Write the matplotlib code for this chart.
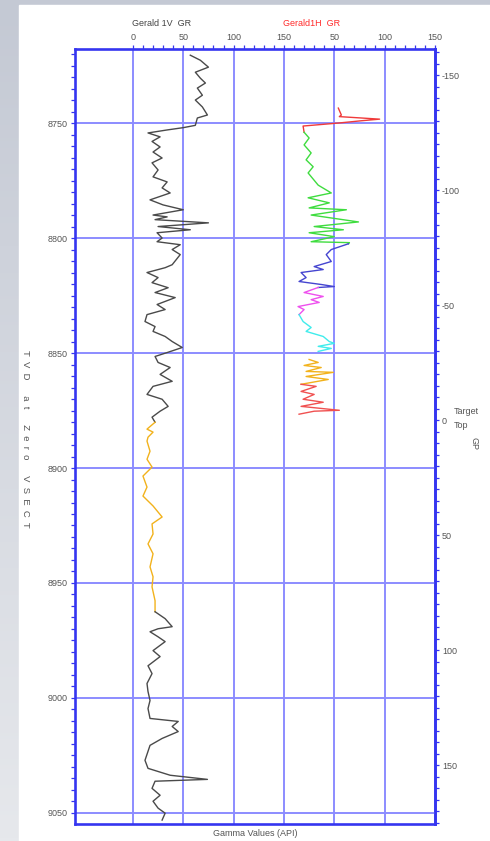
import numpy as np
import matplotlib
matplotlib.use('Agg')
import matplotlib.pyplot as plt
import matplotlib.ticker as ticker
from matplotlib.patches import Rectangle

plt.rcParams['font.family'] = ['Liberation Sans', 'DejaVu Sans']
plt.rcParams['axes.unicode_minus'] = False

# Gerald 1V GR (track 1), TVD in ft and gamma in API
v_depth = [8720.5, 8722.7, 8725.7, 8727.9, 8730.5, 8732.6, 8734.8, 8737.9, 8740.0, 8743.0,
           8746.5, 8747.8, 8751.0, 8752.0, 8753.0, 8754.3, 8756.0, 8758.0, 8760.4, 8762.6,
           8765.2, 8767.3, 8770.4, 8773.4, 8775.6, 8778.2, 8780.4, 8783.4, 8785.6, 8787.7,
           8790.0, 8790.8, 8792.0, 8793.4, 8795.0, 8796.4, 8797.7, 8800.0, 8801.6, 8802.9,
           8805.0, 8807.2, 8811.6, 8812.9, 8815.0, 8817.2, 8819.4, 8821.6, 8823.7, 8825.9,
           8828.9, 8831.1, 8833.3, 8836.3, 8838.5, 8840.6, 8842.8, 8845.0, 8847.6, 8849.8,
           8851.5, 8854.1, 8856.3, 8859.3, 8862.3, 8864.5, 8868.0, 8870.1, 8873.2, 8875.3,
           8877.9, 8880.1]
v_gr = [57, 67, 75, 62, 67, 72, 64, 69, 62, 69,
        74, 64, 62, 50, 34, 15, 27, 19, 27, 20,
        29, 19, 25, 20, 34, 29, 37, 17, 30, 50,
        20, 34, 22, 75, 25, 57, 24, 29, 24, 47,
        39, 47, 39, 32, 14, 25, 19, 35, 22, 42,
        24, 32, 14, 12, 22, 20, 32, 39, 49, 34,
        22, 25, 37, 27, 39, 20, 14, 29, 35, 27,
        19, 22]

# orange zone of Gerald 1V GR
v_zone_depth = [8880.1, 8883.1, 8884.4, 8886.6, 8888.3, 8892.7, 8896.2, 8899.6, 8903.5, 8908.3,
                8912.2, 8916.5, 8921.3, 8924.3, 8928.7, 8933.0, 8937.3, 8943.0, 8947.3, 8951.7,
                8957.7, 8962.5]
v_zone_gr = [22, 14, 20, 15, 14, 17, 14, 19, 10, 14,
             10, 20, 29, 19, 20, 15, 20, 17, 20, 19,
             22, 22]

v_low_depth = [8962.5, 8965.5, 8969.0, 8969.9, 8971.2, 8973.4, 8975.5, 8979.4, 8982.0, 8986.0,
               8989.4, 8993.7, 8997.2, 9001.1, 9004.6, 9008.9, 9010.2, 9012.4, 9014.6, 9017.6,
               9020.6, 9027.1, 9030.6, 9033.6, 9035.4, 9036.2, 9039.3, 9042.3, 9044.9, 9047.9,
               9050.1, 9053.1]
v_low_gr = [22, 32, 39, 25, 17, 25, 32, 20, 27, 15,
            19, 14, 15, 17, 15, 17, 45, 39, 45, 29,
            17, 12, 15, 37, 74, 22, 19, 27, 20, 25,
            32, 29]

# Gerald1H GR (track 2), split by coloured zones
h_red_depth = [8743.5, 8746.5, 8747.2, 8748.3, 8749.0, 8750.0, 8751.3, 8754.0]
h_red_gr = [54, 57, 55, 95, 77, 54, 19, 20]

h_green_depth = [8754.0, 8756.5, 8759.5, 8763.0, 8766.0, 8769.0, 8771.7, 8777.0, 8780.4, 8782.5,
                 8784.7, 8786.9, 8787.7, 8790.0, 8793.0, 8795.0, 8796.4, 8797.7, 8799.4, 8801.6,
                 8802.0, 8802.5]
h_green_gr = [20, 25, 20, 27, 22, 29, 24, 34, 47, 24,
              45, 25, 62, 27, 74, 30, 59, 25, 50, 27,
              65, 64]

h_blue_depth = [8802.5, 8805.0, 8807.2, 8810.2, 8812.4, 8813.7, 8815.0, 8817.2, 8818.9, 8820.2,
                8821.1, 8821.5]
h_blue_gr = [64, 47, 42, 47, 30, 39, 17, 22, 15, 37, 50, 34]

h_pink_depth = [8821.5, 8823.7, 8825.4, 8826.8, 8828.0, 8829.8, 8831.1, 8833.3]
h_pink_gr = [34, 20, 39, 27, 35, 14, 20, 15]

h_cyan_depth = [8833.3, 8836.3, 8838.9, 8840.6, 8842.8, 8845.0, 8845.8, 8847.1, 8848.0, 8849.3]
h_cyan_gr = [15, 19, 27, 22, 39, 45, 50, 34, 47, 34]

h_orange_depth = [8852.8, 8854.1, 8855.4, 8856.3, 8858.0, 8858.4, 8860.2, 8861.5, 8863.6]
h_orange_gr = [25, 34, 20, 37, 22, 49, 22, 44, 17]

h_red2_depth = [8863.6, 8864.5, 8866.7, 8868.0, 8870.1, 8871.4, 8873.2, 8874.9, 8875.3, 8876.6]
h_red2_gr = [17, 32, 17, 30, 19, 39, 17, 55, 30, 15]

x_tick_pos = [0, 50, 100, 150, 200, 250, 300]
x_tick_labels = ['0', '50', '100', '150', '50', '100', '150']
track2_offset = 150
target_depth = 8879.2

BLUE = '#3535f0'
GRID = '#8c8cff'
TXT = '#555555'

fig = plt.figure(figsize=(4.9, 8.41), dpi=100)

# grey gradient backdrop with white page
bg = fig.add_axes([0, 0, 1, 1], zorder=-10)
grad = np.linspace(0, 1, 256).reshape(-1, 1)
bg.imshow(grad, aspect='auto', cmap=matplotlib.colors.LinearSegmentedColormap.from_list(
    'bg', ['#c4c9d4', '#e6e8ec']), extent=(0, 1, 0, 1), origin='upper')
bg.add_patch(Rectangle((19 / 490, 0), 1, 1 - 5 / 841, color='white'))
bg.set_xlim(0, 1)
bg.set_ylim(0, 1)
bg.axis('off')

ax = fig.add_axes([75 / 490, 17 / 841, 360 / 490, 775 / 841])
ax.set_xlim(-57.5, 300)
ax.set_ylim(9054.8, 8717.8)

for xv in [0, 50, 100, 150, 200, 250]:
    ax.axvline(xv, color=GRID, lw=1.4, zorder=1)
for yv in range(8750, 9051, 50):
    ax.axhline(yv, color=GRID, lw=1.4, zorder=1)

line_kw = dict(lw=1.0, zorder=3, solid_joinstyle='round')
ax.plot(v_gr, v_depth, color='#4a4a4a', **line_kw)
ax.plot(v_zone_gr, v_zone_depth, color='#f2b21c', **line_kw)
ax.plot(v_low_gr, v_low_depth, color='#4a4a4a', **line_kw)

zones = [(h_red_depth, h_red_gr, '#f03a3a'),
         (h_green_depth, h_green_gr, '#3fdc3f'),
         (h_blue_depth, h_blue_gr, '#4545d0'),
         (h_pink_depth, h_pink_gr, '#ee50ee'),
         (h_cyan_depth, h_cyan_gr, '#40ecec'),
         (h_orange_depth, h_orange_gr, '#f2b21c'),
         (h_red2_depth, h_red2_gr, '#f05050')]
for dep, gr, col in zones:
    ax.plot(np.array(gr) + track2_offset, dep, color=col, **line_kw)

for s in ax.spines.values():
    s.set_color(BLUE)
    s.set_linewidth(1.9)

ax.xaxis.tick_top()
ax.set_xticks(x_tick_pos)
ax.set_xticklabels(x_tick_labels)
ax.xaxis.set_minor_locator(ticker.FixedLocator(np.arange(0, 301, 10)))
ax.tick_params(axis='x', which='both', direction='out', colors=BLUE, labelcolor=TXT,
               labelsize=6.5, length=3, width=0.9, pad=2)

ax.set_yticks(range(8750, 9051, 50))
ax.yaxis.set_minor_locator(ticker.MultipleLocator(5))
ax.tick_params(axis='y', which='both', direction='out', colors=BLUE, labelcolor=TXT,
               labelsize=6.5, length=3, width=0.9, pad=2)

sec = ax.secondary_yaxis('right', functions=(lambda d: d - target_depth,
                                             lambda r: r + target_depth))
sec.set_yticks(range(-150, 151, 50))
sec.yaxis.set_minor_locator(ticker.MultipleLocator(5))
sec.tick_params(axis='y', which='both', direction='out', colors=BLUE, labelcolor=TXT,
                labelsize=6.5, length=3, width=0.9, pad=2)
sec.spines['right'].set_color(BLUE)
sec.spines['right'].set_linewidth(1.9)

fig.text(132 / 490, 1 - 24 / 841, 'Gerald 1V  GR', color='#444444', fontsize=6.5,
         ha='left', va='center')
fig.text(283 / 490, 1 - 24 / 841, 'Gerald1H  GR', color='#ff2a2a', fontsize=6.5,
         ha='left', va='center')
fig.text(255 / 490, 1 - 833 / 841, 'Gamma Values (API)', color=TXT, fontsize=6.5,
         ha='center', va='center')
fig.text(25 / 490, 1 - 439 / 841, 'T  V  D      a  t      Z  e  r  o      V  S  E  C  T',
         color=TXT, fontsize=6.8, rotation=-90, ha='center', va='center')
fig.text(454 / 490, 1 - 412 / 841, 'Target', color=TXT, fontsize=6.5, ha='left', va='center')
fig.text(454 / 490, 1 - 426 / 841, 'Top', color=TXT, fontsize=6.5, ha='left', va='center')
fig.text(474 / 490, 1 - 444 / 841, 'GP', color=TXT, fontsize=6.5, rotation=-90,
         ha='center', va='center')

fig.savefig('out.png', dpi=100)
